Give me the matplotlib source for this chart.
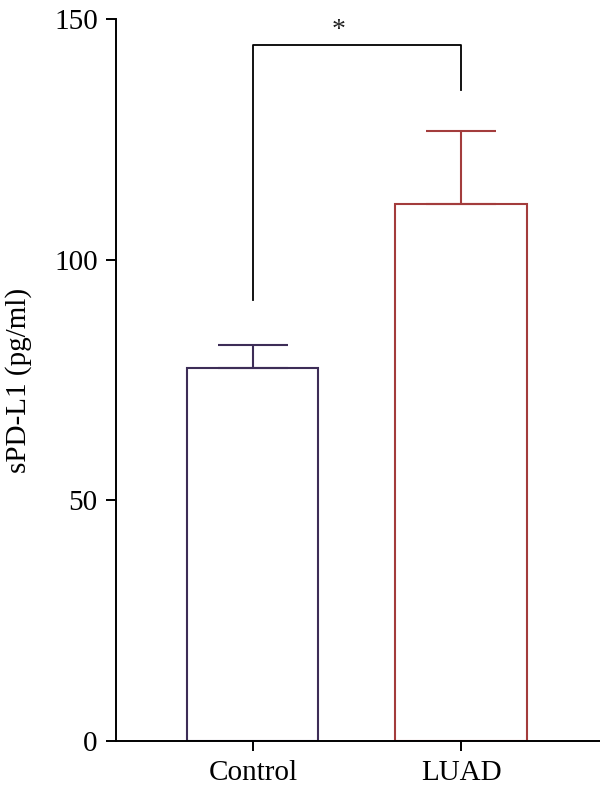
import matplotlib.pyplot as plt
import numpy as np

plt.rcParams['font.family'] = ['Liberation Serif', 'DejaVu Serif']

groups = ['Control', 'LUAD']
means = [77.5, 111.6]
errs = [4.8, 15.1]
colors = ['#3d2d57', '#a33c3c']

# significance bracket (left height, top, right height)
br_left = 91.6
br_top = 144.6
br_right = 135.3
sig = '*'

fig = plt.figure(figsize=(6, 7.95), dpi=100)
ax = fig.add_axes([0.193, 0.068, 0.807, 0.908])

x = np.arange(len(groups))
for i in range(len(groups)):
    ax.bar(x[i], means[i], width=0.63, fill=False, edgecolor=colors[i], linewidth=1.5)
    ax.errorbar(x[i], means[i], yerr=[[0], [errs[i]]], color=colors[i],
                capsize=25, elinewidth=1.5, capthick=1.5, fmt='none')

ax.plot([x[0], x[0], x[1], x[1]], [br_left, br_top, br_top, br_right], color='black', lw=1.3)
ax.text(0.41, br_top + 3.0, sig, ha='center', va='center', fontsize=20, color='#222222')

ax.set_xlim(-0.659, 1.668)
ax.set_ylim(0, 150)
ax.set_yticks([0, 50, 100, 150])
ax.set_xticks(x)
ax.set_xticklabels(groups)
ax.set_ylabel('sPD-L1 (pg/ml)', fontsize=21, labelpad=16)
ax.tick_params(axis='both', labelsize=21, length=7, width=1.4, direction='out')
ax.tick_params(axis='y', pad=6)
ax.tick_params(axis='x', pad=7)
ax.spines['top'].set_visible(False)
ax.spines['right'].set_visible(False)
ax.spines['left'].set_linewidth(1.4)
ax.spines['bottom'].set_linewidth(1.4)

plt.savefig('out.png')
